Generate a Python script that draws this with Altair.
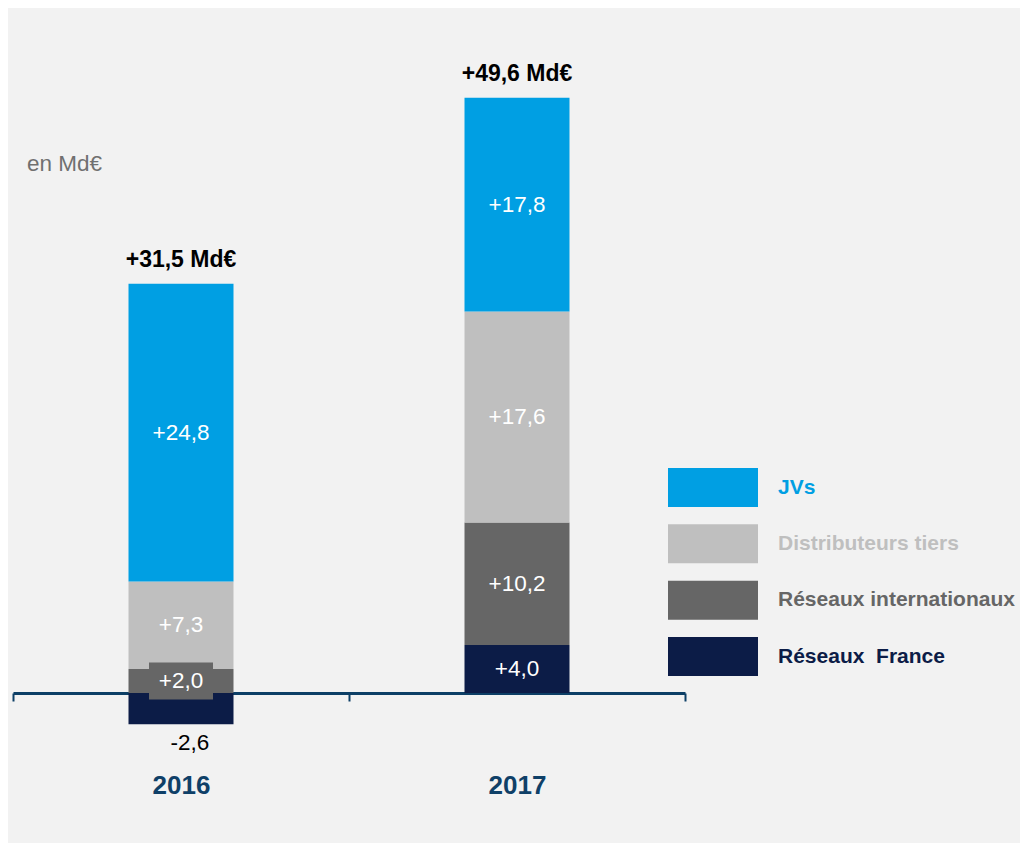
import altair as alt
import pandas as pd

# ---- data ----
years = ["2016", "2017"]
series = ["Réseaux \u00a0France", "Réseaux internationaux", "Distributeurs tiers", "JVs"]  # bottom -> top
colors = ["#0c1c47", "#666666", "#bfbfbf", "#009fe3"]
values_2016 = [-2.6, 2.0, 7.3, 24.8]
values_2017 = [4.0, 10.2, 17.6, 17.8]
label_colors_2016 = ["#000000", "#ffffff", "#ffffff", "#ffffff"]
label_colors_2017 = ["#ffffff", "#ffffff", "#ffffff", "#ffffff"]
boxed_labels = [("2016", "Réseaux internationaux")]
unit_label = "en Md€"
total_suffix = " Md€"

FONT = "Liberation Sans"


def fmt(v):
    return f"{v:+.1f}".replace(".", ",")


rows = []
totals = []
for yr, vals, lcols in [("2016", values_2016, label_colors_2016),
                        ("2017", values_2017, label_colors_2017)]:
    pos, neg = 0.0, 0.0
    for s, v, lc in zip(series, vals, lcols):
        if v >= 0:
            y0, y1 = pos, pos + v
            pos = y1
        else:
            y0, y1 = neg, neg + v
            neg = y1
        rows.append({"year": yr, "series": s, "value": v, "y0": y0, "y1": y1,
                     "mid": (y0 + y1) / 2, "label": fmt(v), "lcolor": lc,
                     "boxed": (yr, s.replace("\u00a0", " ")) in boxed_labels})
    totals.append({"year": yr, "top": pos, "label": fmt(sum(vals)) + total_suffix})

df = pd.DataFrame(rows)
tot = pd.DataFrame(totals)
legend_df = pd.DataFrame({"series": series[::-1]})

yscale = alt.Scale(domain=[-10, 55], nice=False, zero=False)
xscale = alt.Scale(paddingInner=0, paddingOuter=0)
cscale = alt.Scale(domain=series, range=colors)

X = alt.X("year:N", scale=xscale, title=None,
          axis=alt.Axis(orient="bottom", offset=-120, domainColor="#0d3f66",
                        domainWidth=3, tickBand="extent", tickColor="#0d3f66",
                        tickWidth=2, tickSize=8, labelPadding=71, labelAngle=0,
                        labelFont=FONT, labelFontSize=26, labelFontWeight="bold",
                        labelColor="#0f4068", grid=False))
Xn = alt.X("year:N", scale=xscale, title=None)

bars = alt.Chart(df).mark_bar(size=105).encode(
    x=X,
    y=alt.Y("y0:Q", scale=yscale, axis=None),
    y2="y1:Q",
    color=alt.Color("series:N", scale=cscale, legend=None),
)

box = alt.Chart(df).transform_filter("datum.boxed").mark_point(
    shape="M-1,-0.578L1,-0.578L1,0.578L-1,0.578Z", size=4096,
    filled=True, opacity=1, strokeWidth=0, color="#666666"
).encode(x=Xn, y=alt.Y("mid:Q", scale=yscale, axis=None))

inside = alt.Chart(df).transform_filter("datum.value >= 0").mark_text(
    fontSize=22.5, font=FONT, baseline="middle", align="center"
).encode(
    x=Xn, y=alt.Y("mid:Q", scale=yscale, axis=None), text="label:N",
    color=alt.Color("lcolor:N", scale=None),
)

outside = alt.Chart(df).transform_filter("datum.value < 0").mark_text(
    fontSize=22.5, font=FONT, baseline="top", align="center", dy=8, dx=9
).encode(
    x=Xn, y=alt.Y("y1:Q", scale=yscale, axis=None), text="label:N",
    color=alt.Color("lcolor:N", scale=None),
)

total_text = alt.Chart(tot).mark_text(
    fontSize=23, font=FONT, fontWeight="bold", baseline="alphabetic",
    align="center", dy=-17, color="#000000"
).encode(x=Xn, y=alt.Y("top:Q", scale=yscale, axis=None), text="label:N")

main = alt.layer(bars, box, inside, outside, total_text)

ly = alt.Y("series:N", sort=series[::-1],
           scale=alt.Scale(type="point", range=[454.5, 623.5], padding=0), axis=None)

swatches = alt.Chart(legend_df).mark_point(
    shape="M-1,-0.4333L1,-0.4333L1,0.4333L-1,0.4333Z", size=8100,
    filled=True, opacity=1, strokeWidth=0
).encode(x=alt.value(700), y=ly,
         color=alt.Color("series:N", scale=cscale, legend=None))

legend_text = alt.Chart(legend_df).mark_text(
    align="left", baseline="middle", fontSize=21, fontWeight="bold", font=FONT
).encode(x=alt.value(765), y=ly, text="series:N",
         color=alt.Color("series:N", scale=cscale, legend=None))

legend = alt.layer(swatches, legend_text)

chart = alt.layer(main, legend).resolve_scale(y="independent").properties(
    width=672, height=780,
    padding={"left": 5, "top": 25, "right": 335, "bottom": 30},
    autosize=alt.AutoSizeParams(type="none"),
    background="#f2f2f2",
    title=alt.Title(unit_label, anchor="start", frame="group", orient="top",
                    fontSize=22.5, font=FONT, fontWeight="normal", color="#707070",
                    dx=14, dy=142, offset=0),
).configure_view(stroke=None)

chart.save("out.html", embed_options={"renderer": "svg", "actions": False})
